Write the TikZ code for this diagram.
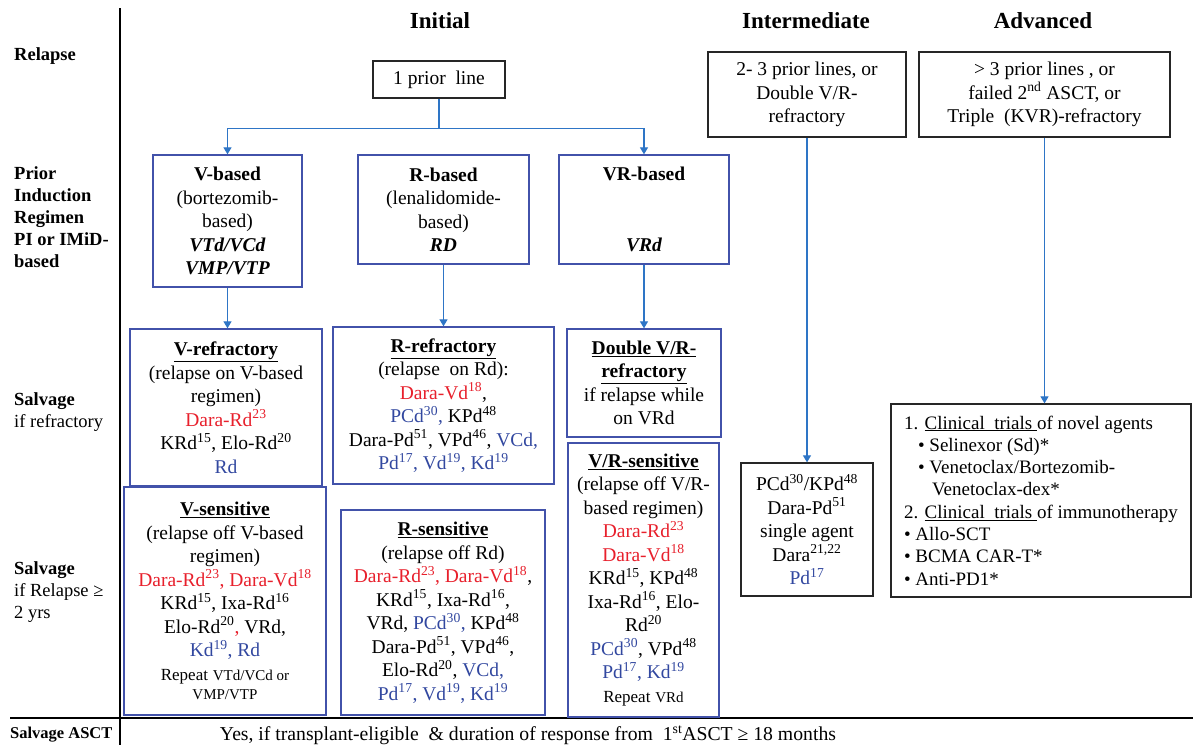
\documentclass[tikz,border=0pt]{standalone}
\usepackage{fontspec}
\setmainfont{Liberation Serif}
\usetikzlibrary{arrows.meta}
\definecolor{tred}{RGB}{232,32,44}
\definecolor{tblue}{RGB}{50,72,160}
\definecolor{bblue}{RGB}{66,82,170}
\definecolor{ablue}{RGB}{46,117,198}
\newcommand{\cred}[1]{\textcolor{tred}{#1}}
\newcommand{\cblu}[1]{\textcolor{tblue}{#1}}
\newcommand{\sps}[1]{\textsuperscript{#1}}
\newcommand{\ubf}[1]{\underline{\textbf{#1}}}
\newcommand{\bodyfont}{\fontsize{19.5}{23.5}\selectfont}
\newcommand{\smfont}{\fontsize{15}{19}\selectfont}
\tikzset{
  bbox/.style={draw=bblue,line width=1.3pt,align=center,inner sep=0pt,font=\bodyfont},
  kbox/.style={draw=black!85,line width=1.3pt,align=center,inner sep=0pt,font=\bodyfont},
  hdr/.style={font=\fontsize{23}{26}\selectfont\bfseries,inner sep=0pt},
  lbl/.style={font=\fontsize{18.5}{22}\selectfont,align=left,inner sep=0pt,anchor=west},
  conn/.style={draw=ablue,line width=1.2pt},
  arr/.style={conn,-{Triangle[width=8pt,length=7pt]}},
  sep/.style={draw=black,line width=2pt}
}
\begin{document}
\begin{tikzpicture}[x=1pt,y=-1pt]
\useasboundingbox[fill=white] (0,0) rectangle (1193,748);
% separators
\draw[sep] (120,8) -- (120,745);
\draw[sep] (10,718) -- (1193,718);
% headers
\node[hdr] (hI) at (440,21) {Initial};
\node[hdr] (hM) at (806,21) {Intermediate};
\node[hdr] (hA) at (1043,21) {Advanced};
% row labels
\node[lbl] (lR) at (14,56) {\textbf{Relapse}};
\node[lbl] (lP) at (14,217) {\textbf{Prior}\\\textbf{Induction}\\\textbf{Regimen}\\\textbf{PI or IMiD-}\\\textbf{based}};
\node[lbl] (lS1) at (14,412) {\textbf{Salvage}\\if refractory};
\node[lbl] (lS2) at (14,592) {\textbf{Salvage}\\if Relapse ≥\\2 yrs};
\node[lbl,font=\fontsize{16.5}{20}\selectfont] (lA) at (10,735) {\textbf{Salvage ASCT}};
% top boxes
\node[kbox,minimum width=132pt,minimum height=37pt] (prior1) at (439,79.5) {1 prior\ \ line};
\node[kbox,minimum width=198pt,minimum height=85pt] (inter) at (807,94.5) {2- 3 prior lines, or\\Double V/R-\\refractory};
\node[kbox,minimum width=251pt,minimum height=85pt] (adv) at (1044.5,94.5) {> 3 prior lines\ , or\\failed 2\sps{nd} ASCT, or\\Triple\ \ (KVR)-refractory};
% induction boxes
\node[bbox,minimum width=149pt,minimum height=132pt] (vbased) at (227.5,221) {\textbf{V-based}\\(bortezomib-\\based)\\\textbf{\textit{VTd/VCd}}\\\textbf{\textit{VMP/VTP}}};
\node[bbox,minimum width=171pt,minimum height=109pt] (rbased) at (443.5,209.5) {\textbf{R-based}\\(lenalidomide-\\based)\\\textbf{\textit{RD}}};
\node[bbox,minimum width=170pt,minimum height=109pt] (vrbased) at (644,209.5) {\textbf{VR-based}\\[48pt]\textbf{\textit{VRd}}};
% salvage boxes
\node[bbox,minimum width=192pt,minimum height=157pt] (vref) at (226,407.5) {\ubf{V-refractory}\\(relapse on V-based\\regimen)\\\cred{Dara-Rd\sps{23}}\\KRd\sps{15}, Elo-Rd\sps{20}\\\cblu{Rd}};
\node[bbox,minimum width=202pt,minimum height=228pt] (vsen) at (225,601) {\ubf{V-sensitive}\\(relapse off V-based\\regimen)\\\cred{Dara-Rd\sps{23}, Dara-Vd\sps{18}}\\KRd\sps{15}, Ixa-Rd\sps{16}\\Elo-Rd\sps{20}\cred{,} VRd,\\\cblu{Kd\sps{19}, Rd}\\{\fontsize{17}{19}\selectfont Repeat} {\smfont VTd/VCd or}\\[-4.5pt]{\smfont VMP/VTP}};
\node[bbox,minimum width=221pt,minimum height=157pt] (rref) at (443.5,405.5) {\ubf{R-refractory}\\(relapse\ \ on Rd):\\\cred{Dara-Vd\sps{18}},\\\cblu{PCd\sps{30},} KPd\sps{48}\\Dara-Pd\sps{51}, VPd\sps{46}, \cblu{VCd,}\\\cblu{Pd\sps{17}, Vd\sps{19}, Kd\sps{19}}};
\node[bbox,minimum width=204pt,minimum height=205pt] (rsen) at (443,612.5) {\ubf{R-sensitive}\\(relapse off Rd)\\\cred{Dara-Rd\sps{23}, Dara-Vd\sps{18}},\\KRd\sps{15}, Ixa-Rd\sps{16},\\VRd, \cblu{PCd\sps{30},} KPd\sps{48}\\Dara-Pd\sps{51}, VPd\sps{46},\\Elo-Rd\sps{20}, \cblu{VCd,}\\\cblu{Pd\sps{17}, Vd\sps{19}, Kd\sps{19}}};
\node[bbox,minimum width=154pt,minimum height=108pt] (dvr) at (644,383) {\ubf{Double V/R-}\\\ubf{refractory}\\if relapse while\\on VRd};
\node[bbox,minimum width=151pt,minimum height=274pt] (vrsen) at (643.5,580) {\ubf{V/R-sensitive}\\(relapse off V/R-\\based regimen)\\\cred{Dara-Rd\sps{23}}\\\cred{Dara-Vd\sps{18}}\\KRd\sps{15}, KPd\sps{48}\\Ixa-Rd\sps{16}, Elo-\\Rd\sps{20}\\\cblu{PCd\sps{30}}, VPd\sps{48}\\\cblu{Pd\sps{17}, Kd\sps{19}}\\{\fontsize{17}{19}\selectfont Repeat} {\smfont VRd}};
\node[kbox,minimum width=132pt,minimum height=133pt] (intsal) at (807,529.5) {PCd\sps{30}/KPd\sps{48}\\Dara-Pd\sps{51}\\single agent\\Dara\sps{21,22}\\\cblu{Pd\sps{17}}};
\node[kbox,minimum width=300pt,minimum height=193pt,align=left,font=\fontsize{19}{22.3}\selectfont] (advsal) at (1041,500.5) {1. \underline{Clinical\ \ trials\ }of novel agents\\
\hspace*{14pt}• Selinexor (Sd)*\\
\hspace*{14pt}• Venetoclax/Bortezomib-\\
\hspace*{28pt}Venetoclax-dex*\\
2. \underline{Clinical\ \ trials\ }of immunotherapy\\
• Allo-SCT\\
• BCMA CAR-T*\\
• Anti-PD1*};
% bottom text
\node[inner sep=0pt,font=\fontsize{19.7}{22}\selectfont] (ascttxt) at (528,735) {Yes, if transplant-eligible\ \ \& duration of response from\ \ 1\sps{st}ASCT ≥ 18 months};
% connectors
\draw[conn] (prior1.south) -- ++(0,30) coordinate (j1);
\draw[arr] (j1) -| (vbased.north);
\draw[arr] (j1) -| (vrbased.north);
\draw[arr] (vbased.south) -- (vbased.south |- vref.north);
\draw[arr] (rbased.south) -- (rbased.south |- rref.north);
\draw[arr] (vrbased.south) -- (vrbased.south |- dvr.north);
\draw[arr] (inter.south) -- (inter.south |- intsal.north);
\draw[arr] (adv.south) -- (adv.south |- advsal.north);
\end{tikzpicture}
\end{document}
